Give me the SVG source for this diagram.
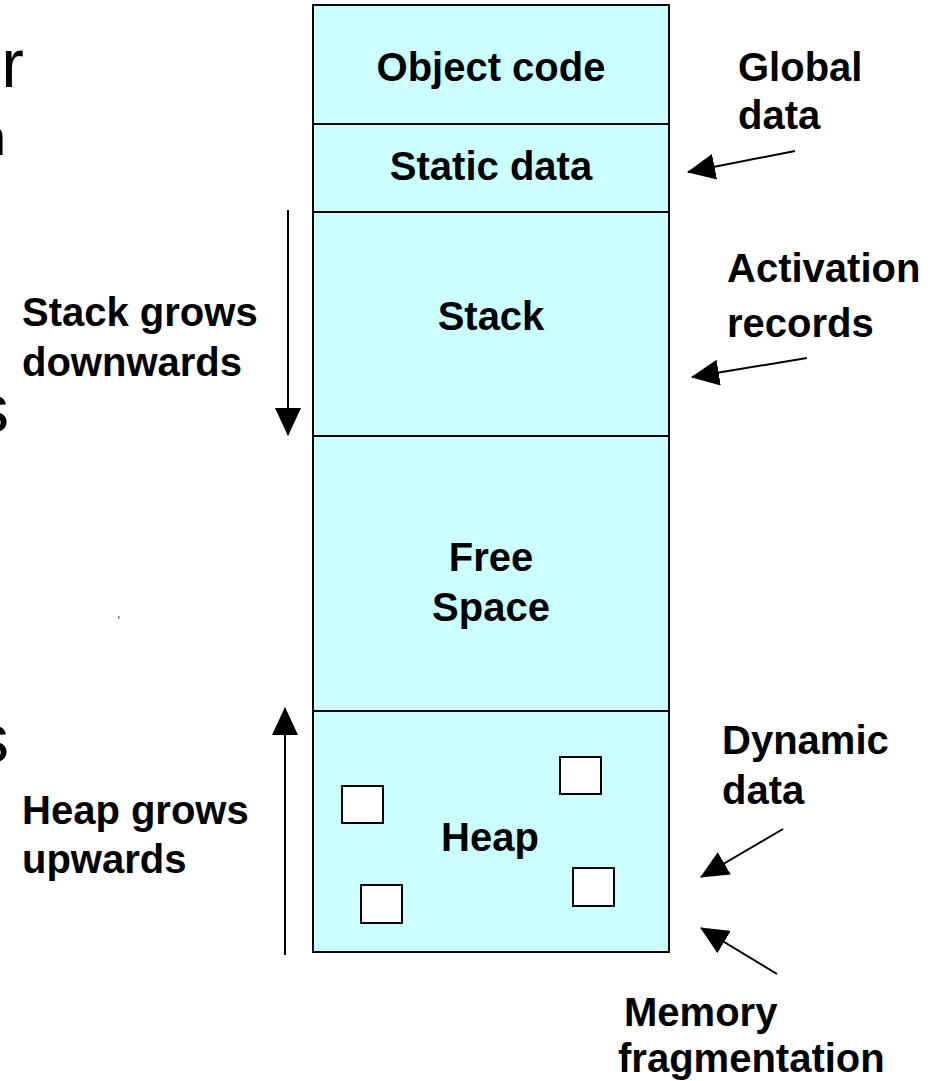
<svg xmlns="http://www.w3.org/2000/svg" width="935" height="1081" viewBox="0 0 935 1081">
<style>
text{font-family:"Liberation Sans",Arial,sans-serif;fill:#000}
.b{font-weight:bold;font-size:40px}
.c{text-anchor:middle}
.frag{font-size:68px}
.seg{fill:#CCFFFF;stroke:#000;stroke-width:2}
.blk{fill:#FFFFFF;stroke:#000;stroke-width:2}
.arr{stroke:#000;stroke-width:2;fill:none;marker-end:url(#ah)}
</style>
<defs>
<marker id="ah" viewBox="0 0 28 26" refX="27" refY="13" markerWidth="28" markerHeight="26" markerUnits="userSpaceOnUse" orient="auto">
<path d="M0,0 L28,13 L0,26 z" fill="#000"/>
</marker>
</defs>
<g id="slide-fragments">
<text class="frag" x="24" y="87" text-anchor="end">r</text>
<text x="6" y="155" font-size="52" text-anchor="end">n</text>
<text class="frag" x="9" y="432" text-anchor="end">s</text>
<text class="frag" x="9" y="762" text-anchor="end">s</text>
<rect x="118" y="616" width="1.5" height="3" fill="#888"/>
</g>
<g id="object-code">
<rect class="seg" x="313" y="5" width="356" height="119"/>
<text class="b c" x="491" y="81">Object code</text>
</g>
<g id="static-data">
<rect class="seg" x="313" y="124" width="356" height="88"/>
<text class="b c" x="491" y="180">Static data</text>
</g>
<g id="stack">
<rect class="seg" x="313" y="212" width="356" height="224"/>
<text class="b c" x="491" y="330">Stack</text>
</g>
<g id="free-space">
<rect class="seg" x="313" y="436" width="356" height="275"/>
<text class="b c" x="491" y="571">Free</text>
<text class="b c" x="491" y="621">Space</text>
</g>
<g id="heap">
<rect class="seg" x="313" y="711" width="356" height="241"/>
<text class="b c" x="490" y="851">Heap</text>
<rect class="blk" x="342" y="786" width="41" height="37"/>
<rect class="blk" x="560" y="757" width="41" height="37"/>
<rect class="blk" x="361" y="885" width="41" height="38"/>
<rect class="blk" x="573" y="868" width="41" height="38"/>
</g>
<g id="label-global-data">
<text class="b" x="738" y="81">Global</text>
<text class="b" x="738" y="129">data</text>
</g>
<g id="label-activation-records">
<text class="b" x="727" y="282">Activation</text>
<text class="b" x="727" y="337">records</text>
</g>
<g id="label-stack-grows">
<text class="b" x="22" y="326">Stack grows</text>
<text class="b" x="22" y="376">downwards</text>
</g>
<g id="label-heap-grows">
<text class="b" x="22" y="824">Heap grows</text>
<text class="b" x="22" y="873">upwards</text>
</g>
<g id="label-dynamic-data">
<text class="b" x="722" y="754">Dynamic</text>
<text class="b" x="722" y="804">data</text>
</g>
<g id="label-memory-fragmentation">
<text class="b" x="624" y="1026">Memory</text>
<text class="b" x="618" y="1072">fragmentation</text>
</g>
<g id="connectors">
<line class="arr" x1="288" y1="210" x2="288" y2="435"/>
<line class="arr" x1="285" y1="955" x2="285" y2="708"/>
<line class="arr" x1="795" y1="151" x2="688" y2="172"/>
<line class="arr" x1="807" y1="358" x2="692" y2="377"/>
<line class="arr" x1="783" y1="829" x2="701" y2="877"/>
<line class="arr" x1="777" y1="974" x2="701" y2="928"/>
</g>
</svg>
